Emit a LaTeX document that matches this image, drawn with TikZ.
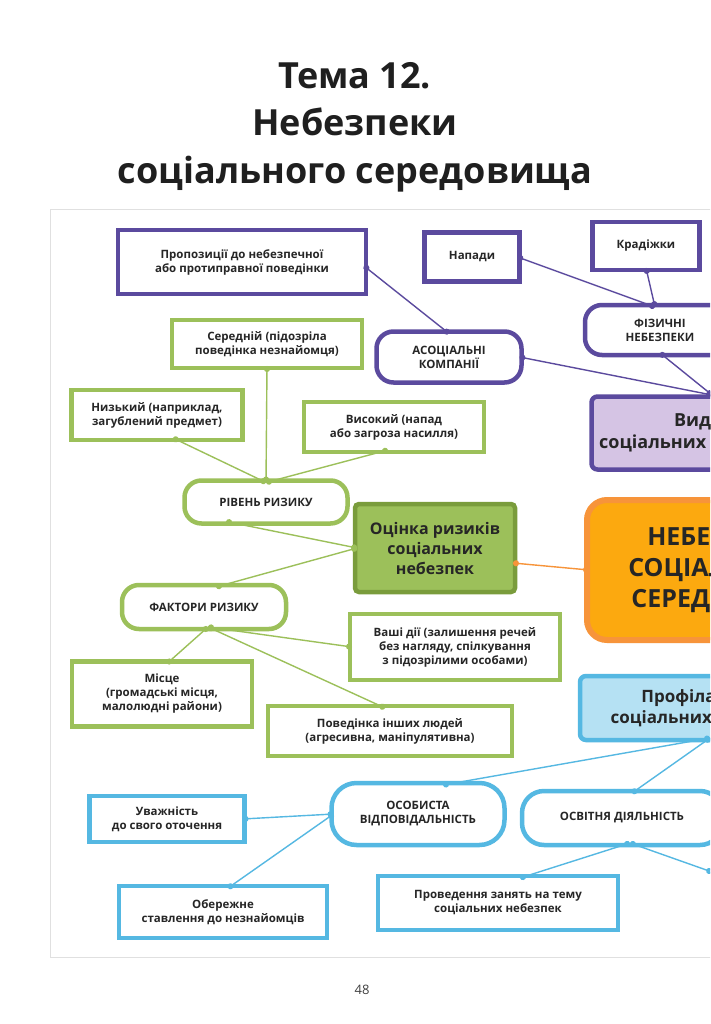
\documentclass[tikz,border=0pt]{standalone}
\usepackage{fontspec}
\setmainfont{Open Sans}
\usetikzlibrary{arrows.meta}
\definecolor{pur}{HTML}{5B4A9E}
\definecolor{purf}{HTML}{D5C4E4}
\definecolor{grn}{HTML}{9CC05A}
\definecolor{grnd}{HTML}{7A9C3C}
\definecolor{blu}{HTML}{55B8E2}
\definecolor{bluf}{HTML}{B5E1F3}
\definecolor{org}{HTML}{F7943A}
\definecolor{orgf}{HTML}{FCA90F}
\begin{document}
\begin{tikzpicture}[x=1pt,y=-1pt,
  box/.style={draw, line width=4.5pt, fill=white, align=center, inner sep=0pt, outer sep=0pt, font=\bfseries\fontsize{11.5}{14}\selectfont, text=black!85},
  pill/.style={box, rounded corners=17pt},
  con/.style={line width=1.4pt, {Circle[length=6pt]}-{Circle[length=6pt]}}]
\useasboundingbox (0,0) rectangle (710,1024);
\clip (0,0) rectangle (710,1024);
\fill[white] (0,0) rectangle (710,1024);
\node[align=center, font=\bfseries\fontsize{36}{47.5}\selectfont, text=black!88] (title) at (355,127) {Тема 12.\\Небезпеки\\соціального середовища};
\draw[black!12, line width=1pt] (50,210) rectangle (760,957);
% purple
\node[box, draw=pur, minimum width=248pt, minimum height=64pt] (prop) at (242,262) {Пропозиції до небезпечної\\або протиправної поведінки};
\node[box, draw=pur, minimum width=95pt, minimum height=49pt] (nap) at (472,257) {Напади};
\node[box, draw=pur, minimum width=107pt, minimum height=48pt] (krad) at (646,246) {Крадіжки};
\node[pill, draw=pur, minimum width=150pt, minimum height=50pt] (fiz) at (660,330) {ФІЗИЧНІ\\НЕБЕЗПЕКИ};
\node[pill, draw=pur, minimum width=145pt, minimum height=51pt] (aso) at (449,357) {АСОЦІАЛЬНІ\\КОМПАНІЇ};
\node[box, draw=pur, fill=purf, rounded corners=6pt, minimum width=215pt, minimum height=73pt, font=\bfseries\fontsize{18}{22}\selectfont] (vyd) at (699,433) {Види\\соціальних небезпек};
% orange
\node[box, draw=org, fill=orgf, line width=6pt, rounded corners=20pt, minimum width=270pt, minimum height=140pt, font=\bfseries\fontsize{25}{31}\selectfont] (neb) at (722,570) {НЕБЕЗПЕКИ\\СОЦІАЛЬНОГО\\СЕРЕДОВИЩА};
% green
\node[box, draw=grn, minimum width=190pt, minimum height=48pt] (ser) at (267,344) {Середній (підозріла\\поведінка незнайомця)};
\node[box, draw=grn, minimum width=171pt, minimum height=50pt] (niz) at (157,415) {Низький (наприклад,\\загублений предмет)};
\node[box, draw=grn, minimum width=180pt, minimum height=50pt] (vys) at (394,427) {Високий (напад\\або загроза насилля)};
\node[pill, draw=grn, minimum width=163pt, minimum height=43pt] (riv) at (266,502) {РІВЕНЬ РИЗИКУ};
\node[box, draw=grnd, fill=grn, rounded corners=4pt, minimum width=160pt, minimum height=88pt, font=\bfseries\fontsize{16}{20}\selectfont] (ocin) at (435,548) {Оцінка ризиків\\соціальних\\небезпек};
\node[pill, draw=grn, minimum width=164pt, minimum height=44pt] (fak) at (204,607) {ФАКТОРИ РИЗИКУ};
\node[box, draw=grn, minimum width=210pt, minimum height=66pt] (vash) at (455,647) {Ваші дії (залишення речей\\без нагляду, спілкування\\з підозрілими особами)};
\node[box, draw=grn, minimum width=180pt, minimum height=65pt] (mis) at (162,694) {Місце\\(громадські місця,\\малолюдні райони)};
\node[box, draw=grn, minimum width=244pt, minimum height=50pt] (pov) at (390,731) {Поведінка інших людей\\(агресивна, маніпулятивна)};
% blue
\node[box, draw=blu, fill=bluf, rounded corners=6pt, minimum width=250pt, minimum height=64pt, font=\bfseries\fontsize{17}{21}\selectfont] (prof) at (705,708) {Профілактика\\соціальних небезпек};
\node[pill, draw=blu, minimum width=173pt, minimum height=62pt, rounded corners=25pt] (osob) at (418,814) {ОСОБИСТА\\ВІДПОВІДАЛЬНІСТЬ};
\node[pill, draw=blu, minimum width=200pt, minimum height=54pt, rounded corners=22pt] (osv) at (622,818) {ОСВІТНЯ ДІЯЛЬНІСТЬ};
\node[box, draw=blu, minimum width=155pt, minimum height=46pt] (uva) at (167,819) {Уважність\\до свого оточення};
\node[box, draw=blu, minimum width=208pt, minimum height=52pt] (obe) at (223,912) {Обережне\\ставлення до незнайомців};
\node[box, draw=blu, minimum width=240pt, minimum height=54pt] (prov) at (498,903) {Проведення занять на тему\\соціальних небезпек};
\coordinate (vydc) at (712,395);
\coordinate (osvr) at (712,872);
% connectors (yshift>0 = up on page)
\draw[con, pur] ([xshift=-2pt,yshift=-4pt]prop.east) -- ([yshift=-2pt]aso.north);
\draw[con, pur] ([xshift=-2pt]nap.east) -- ([yshift=-2pt,xshift=-5pt]fiz.north);
\draw[con, pur] ([yshift=2pt]krad.south) -- ([yshift=-2pt,xshift=-5pt]fiz.north);
\draw[con, pur] ([xshift=-2pt]aso.east) -- (vydc);
\draw[con, pur] ([yshift=2pt]fiz.south) -- (vydc);
\draw[con, grn] ([yshift=2pt]ser.south) -- ([yshift=-2pt]riv.north);
\draw[con, grn] ([xshift=16pt,yshift=2pt]niz.south) -- ([yshift=-2pt]riv.north);
\draw[con, grn] ([xshift=-6pt,yshift=2pt]vys.south) -- ([yshift=-2pt]riv.north);
\draw[con, grn] ([xshift=-40pt,yshift=2pt]riv.south) -- ([xshift=2pt]ocin.west);
\draw[con, grn] ([xshift=2pt]ocin.west) -- ([xshift=12pt,yshift=-2pt]fak.north);
\draw[con, org] ([xshift=-2pt,yshift=-15pt]ocin.east) -- ([xshift=2pt]neb.west);
\draw[con, grn] ([xshift=4pt,yshift=2pt]fak.south) -- ([xshift=2pt]vash.west);
\draw[con, grn] ([xshift=4pt,yshift=2pt]fak.south) -- ([xshift=5pt,yshift=-2pt]mis.north);
\draw[con, grn] ([xshift=4pt,yshift=2pt]fak.south) -- ([xshift=-5pt,yshift=-2pt]pov.north);
\draw[con, blu] ([yshift=2pt]prof.south west) ++(130,0) -- ([xshift=25pt,yshift=-2pt]osob.north);
\draw[con, blu] ([yshift=2pt]prof.south west) ++(130,0) -- ([xshift=10pt,yshift=-2pt]osv.north);
\draw[con, blu] ([xshift=2pt]osob.west) -- ([xshift=-2pt]uva.east);
\draw[con, blu] ([xshift=2pt]osob.west) -- ([xshift=5pt,yshift=-2pt]obe.north);
\draw[con, blu] ([xshift=8pt,yshift=2pt]osv.south) -- ([xshift=22pt,yshift=-2pt]prov.north);
\draw[con, blu] ([xshift=8pt,yshift=2pt]osv.south) -- (osvr);
\node[font=\fontsize{13}{15}\selectfont, text=black!75] (pg) at (362,990) {48};
\end{tikzpicture}
\end{document}
